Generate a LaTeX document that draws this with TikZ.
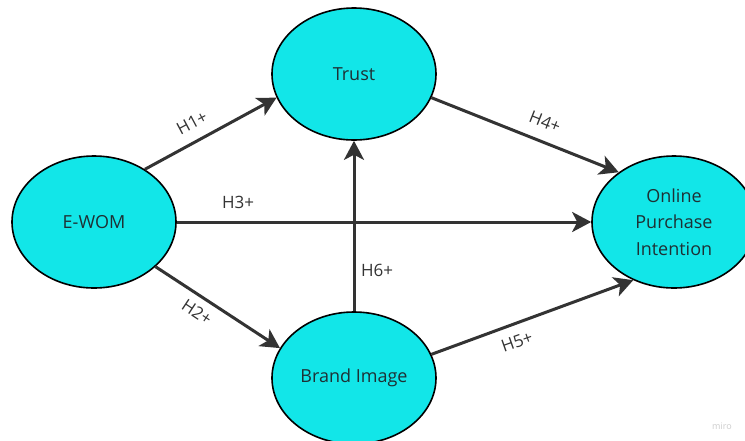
\documentclass[tikz,border=0pt]{standalone}
\usepackage{fontspec}
\setmainfont{Open Sans}
\usetikzlibrary{shapes.geometric,arrows.meta}
\definecolor{bubble}{HTML}{12E6E8}
\definecolor{ink}{HTML}{333333}
\definecolor{labeltext}{HTML}{1E3034}
\begin{document}
\begin{tikzpicture}[x=1pt,y=-1pt,
  construct/.style={ellipse, draw=black, line width=1.6pt, fill=bubble,
    minimum width=164pt, minimum height=132pt, inner sep=0pt,
    text=labeltext, font=\fontsize{18}{26.5}\selectfont, align=center},
  path/.style={draw=ink, line width=3pt,
    -{Stealth[length=19pt,width=20pt,inset=5pt]}},
  hyp/.style={text=ink, font=\fontsize{17}{20}\selectfont, inner sep=0pt}]
\useasboundingbox (0,0) rectangle (745,440);

% constructs of the model
\node[construct] (ewom)  at (94,222)  {E-WOM};
\node[construct] (trust) at (354,74)  {Trust};
\node[construct] (opi)   at (674,222) {Online\\Purchase\\Intention};
\node[construct] (brand) at (354,378) {Brand Image};

% hypothesised paths
\draw[path] (ewom.46.6) -- (trust.197.3);
\draw[path] (ewom.-36) -- (brand.158.5);
\draw[path] (ewom.east) -- (opi.west);
\draw[path] (trust.-17.8) -- (opi.138);
\draw[path] (brand.17.8) -- (opi.235);
\draw[path] (brand.north) -- (trust.south);

% path labels
\node[hyp, rotate=28]    (h1) at (192,123) {H1+};
\node[hyp, rotate=-33.5] (h2) at (197,312) {H2+};
\node[hyp]               (h3) at (238,202) {H3+};
\node[hyp, rotate=-21.5] (h4) at (545,122) {H4+};
\node[hyp, rotate=19.5]  (h5) at (517,342) {H5+};
\node[hyp]               (h6) at (377,270) {H6+};

% board watermark
\node[text=black!20, font=\fontsize{9}{10}\selectfont, anchor=west, inner sep=0pt]
  (mark) at (712,426) {miro};
\end{tikzpicture}
\end{document}
